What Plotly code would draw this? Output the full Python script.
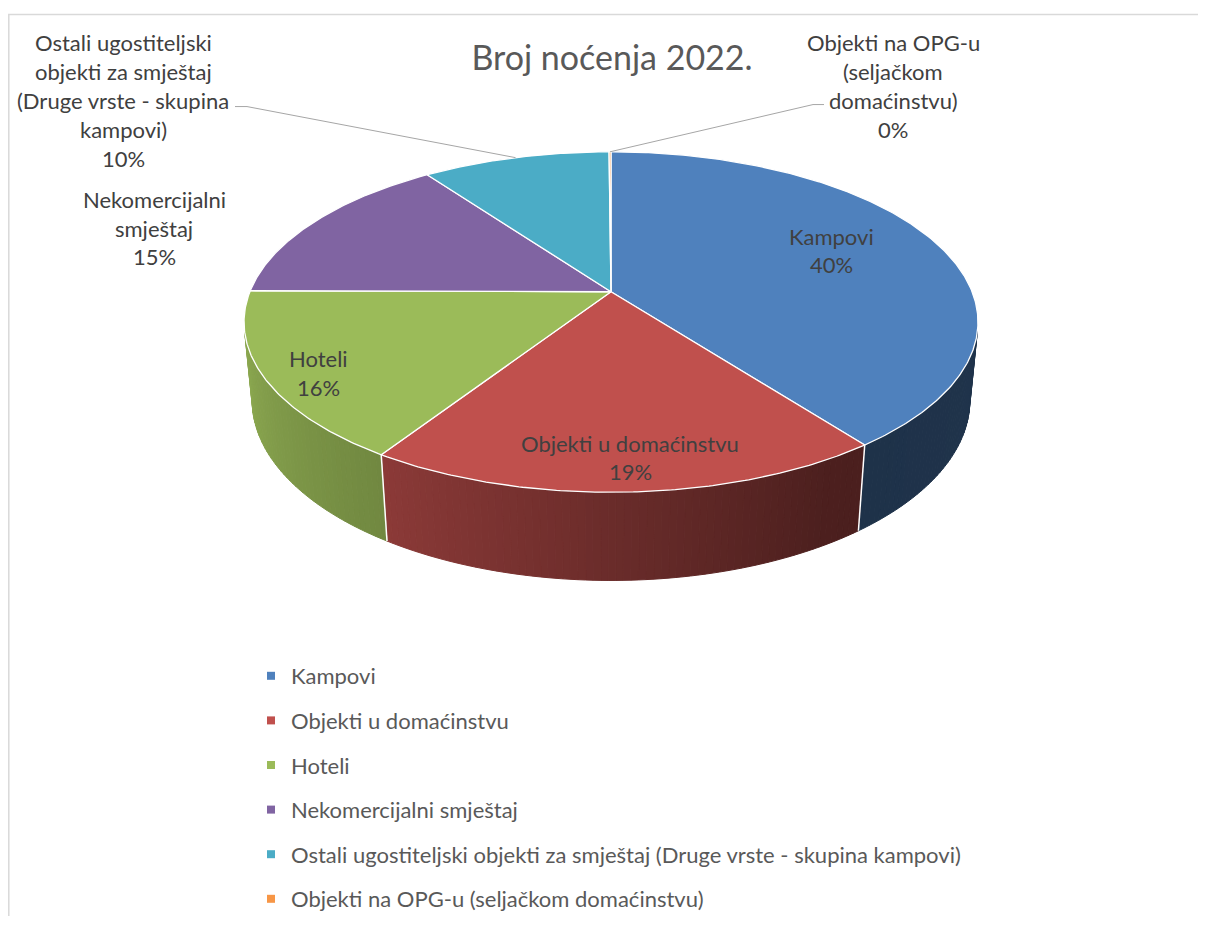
import numpy as np
import plotly.graph_objects as go

# ---------------- data ----------------
categories = [
    "Kampovi",
    "Objekti u domaćinstvu",
    "Hoteli",
    "Nekomercijalni smještaj",
    "Ostali ugostiteljski objekti za smještaj (Druge vrste - skupina kampovi)",
    "Objekti na OPG-u (seljačkom domaćinstvu)",
]
values = [39.7, 19.4, 16.0, 15.0, 9.8, 0.1]
label_lines = [
    ["Kampovi"],
    ["Objekti u domaćinstvu"],
    ["Hoteli"],
    ["Nekomercijalni", "smještaj"],
    ["Ostali ugostiteljski", "objekti za smještaj", "(Druge vrste - skupina", "kampovi)"],
    ["Objekti na OPG-u", "(seljačkom", "domaćinstvu)"],
]
title_text = "Broj noćenja 2022."

# ---------------- style / layout ----------------
colors = ["#4F81BD", "#C0504D", "#9BBB59", "#8064A2", "#4BACC6", "#F79646"]
FONT = "Lato"
LABEL_SIZE = 22
LINE_H = 29
# screen-pixel positions (first line centre) of the data labels
label_pos = [(831, 237), (630, 445), (318, 360), (154, 200), (123, 43), (893, 43)]
# leader lines: (outer x, y, inner x) on the label side
leader = {4: (235, 107, 247), 5: (824, 105, 813)}

PAGE_W, PAGE_H = 1206, 928
OFF = 8                      # browser body margin
W, H = PAGE_W - 2 * OFF, PAGE_H - 2 * OFF
CX, CY = 611, 293
FX, FY = 1811, 1835
SIN_E, COS_E = 0.4525, 0.8918
DIST = 5.015
THICK = 0.2427
VIS_MIN, VIS_MAX = 103.0, 257.0   # visible part of the side wall (degrees)


def proj(theta, down=0.0):
    t = np.radians(theta)
    x, z = np.sin(t), np.cos(t)
    depth = DIST + z * COS_E + down * SIN_E
    return CX + x * FX / depth, CY - (z * SIN_E - down * COS_E) * FY / depth


def shade(hex_color, f):
    h = hex_color.lstrip("#")
    r, g, b = (int(h[i:i + 2], 16) for i in (0, 2, 4))
    return "rgb(%d,%d,%d)" % (r * f, g * f, b * f)


def side_factor(theta):
    return float(np.interp(theta, [103, 142.9, 150, 212.8, 257],
                           [0.40, 0.39, 0.40, 0.73, 0.90]))


total = sum(values)
angles = np.concatenate([[0], np.cumsum(values) / total * 360.0])
pcts = [round(v / total * 100) for v in values]

fig = go.Figure()

# side walls (thin strips, shaded)
for i in range(len(values)):
    a0, a1 = max(angles[i], VIS_MIN), min(angles[i + 1], VIS_MAX)
    if a1 <= a0:
        continue
    n = max(2, int((a1 - a0) / 1.0))
    ts = np.linspace(a0, a1, n + 1)
    for k in range(n):
        t0, t1 = ts[k], ts[k + 1]
        xt0, yt0 = proj(t0)
        xt1, yt1 = proj(t1)
        xb1, yb1 = proj(t1, THICK)
        xb0, yb0 = proj(t0, THICK)
        col = shade(colors[i], side_factor((t0 + t1) / 2))
        fig.add_trace(go.Scatter(
            x=[xt0, xt1, xb1, xb0, xt0], y=[yt0, yt1, yb1, yb0, yt0],
            mode="lines", fill="toself", fillcolor=col,
            line=dict(color=col, width=1), hoverinfo="skip", showlegend=False))

# white edges between side segments
for a in angles[1:-1]:
    if VIS_MIN < a < VIS_MAX:
        x0, y0 = proj(a)
        x1, y1 = proj(a, THICK)
        fig.add_trace(go.Scatter(x=[x0, x1], y=[y0, y1], mode="lines",
                                 line=dict(color="white", width=1.5),
                                 hoverinfo="skip", showlegend=False))

# top faces
for i in range(len(values)):
    a0, a1 = angles[i], angles[i + 1]
    n = max(2, int((a1 - a0) / 0.5))
    ts = np.linspace(a0, a1, n + 1)
    xs, ys = proj(ts)
    px = np.concatenate([[CX], xs, [CX]])
    py = np.concatenate([[CY], ys, [CY]])
    fig.add_trace(go.Scatter(x=px, y=py, mode="lines", fill="toself",
                             fillcolor=colors[i],
                             line=dict(color="white", width=1.3),
                             hoverinfo="skip", showlegend=False))

# leader lines
for i, (lx, ly, lx2) in leader.items():
    mid = (angles[i] + angles[i + 1]) / 2
    ex, ey = proj(mid)
    fig.add_trace(go.Scatter(x=[lx, lx2, ex], y=[ly, ly, ey], mode="lines",
                             line=dict(color="#A6A6A6", width=1),
                             hoverinfo="skip", showlegend=False))

# data labels
for i, lines in enumerate(label_lines):
    x0, y0 = label_pos[i]
    for j, txt in enumerate(lines + ["%d%%" % pcts[i]]):
        fig.add_annotation(x=x0, y=y0 + j * LINE_H, text=txt, showarrow=False,
                           xanchor="center", yanchor="middle",
                           font=dict(family=FONT, size=LABEL_SIZE, color="#404040"))

# legend entries
for i, cat in enumerate(categories):
    fig.add_trace(go.Scatter(x=[None], y=[None], mode="markers", name=cat,
                             legendgroup="g%d" % i,
                             marker=dict(symbol="square", size=8, color=colors[i])))

# chart border
fig.add_shape(type="rect", x0=8.8, y0=14.5, x1=PAGE_W + 20, y1=PAGE_H + 20,
              line=dict(color="#D9D9D9", width=1.5), layer="below")

fig.update_layout(
    width=W, height=H, autosize=False,
    margin=dict(l=0, r=0, t=0, b=0),
    paper_bgcolor="white", plot_bgcolor="white",
    title=dict(text=title_text, x=(612 - OFF) / W, xanchor="center",
               y=1 - (58 - OFF) / H, yanchor="middle",
               font=dict(family=FONT, size=34, color="#595959")),
    xaxis=dict(range=[OFF, OFF + W], visible=False, fixedrange=True),
    yaxis=dict(range=[OFF + H, OFF], visible=False, fixedrange=True),
    showlegend=True,
    legend=dict(x=(251 - OFF) / W, y=1 - (658 - OFF) / H, xanchor="left",
                yanchor="top", orientation="v", tracegroupgap=13,
                bgcolor="rgba(0,0,0,0)",
                font=dict(family=FONT, size=LABEL_SIZE, color="#595959")),
    hovermode=False,
)

fig.write_html("out.html")
